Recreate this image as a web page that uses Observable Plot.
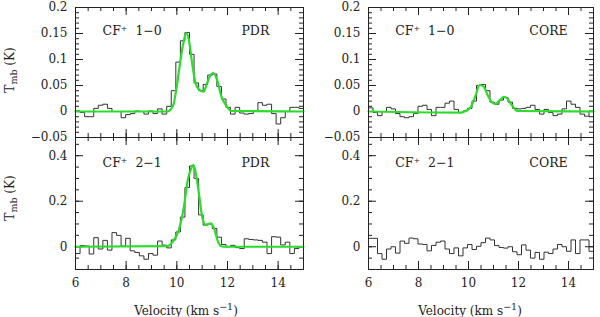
<!DOCTYPE html>
<html><head><meta charset="utf-8">
<script src="https://cdn.jsdelivr.net/npm/d3@7"></script>
<script src="https://cdn.jsdelivr.net/npm/@observablehq/plot@0.6"></script>
<style>
html,body{margin:0;padding:0;background:#fff;}
#chart{position:relative;width:600px;height:317px;overflow:hidden;font-family:"DejaVu Serif",serif;color:#222;}
#chart svg{position:absolute;overflow:visible;}
.ylab{position:absolute;font-size:12px;white-space:nowrap;transform:translate(-50%,-50%) rotate(-90deg);}
.xlab{position:absolute;font-size:12px;white-space:nowrap;transform:translate(-50%,-50%);}
sub,sup{font-size:9.5px;}
</style></head><body><div id="chart"></div>
<script>
// Channel left edges (km/s), last channel ends at velEnd
const vel = [6.00,6.18,6.36,6.54,6.72,6.90,7.08,7.26,7.44,7.62,7.80,7.98,8.16,8.34,8.52,8.70,8.88,9.06,9.24,9.42,9.60,9.78,9.96,10.14,10.32,10.50,10.68,10.86,11.04,11.22,11.40,11.58,11.76,11.94,12.12,12.30,12.48,12.66,12.84,13.02,13.20,13.38,13.56,13.74,13.92,14.10,14.28,14.46,14.64,14.82];
const velEnd = 15.0;

// Observed spectra (Tmb, K)
const tPdr10 = [0.001,-0.002,-0.010,-0.010,0.006,0.012,0.014,0.006,0.000,0.000,-0.012,-0.006,-0.004,0.001,0.000,-0.005,0.001,-0.004,0.005,-0.005,0.010,0.040,0.095,0.136,0.152,0.110,0.055,0.040,0.052,0.070,0.072,0.048,0.024,0.008,-0.005,0.008,-0.003,-0.005,-0.004,0.000,0.017,0.012,0.014,-0.004,-0.024,-0.012,0.000,0.008,0.008,0.006];
const tCore10 = [0.007,-0.002,-0.008,0.000,0.008,0.005,-0.004,-0.010,-0.012,-0.010,-0.004,0.010,0.012,0.004,-0.008,0.008,0.008,0.016,0.020,0.004,-0.002,0.001,0.006,0.020,0.050,0.052,0.040,0.018,0.014,0.022,0.027,0.018,0.006,0.005,0.006,0.008,0.012,0.004,-0.005,0.004,-0.002,-0.008,-0.005,0.005,0.020,0.014,0.008,-0.005,-0.009,0.001];
const tPdr21 = [-0.030,0.005,0.003,-0.032,0.040,-0.010,0.028,-0.015,0.062,0.050,0.003,0.037,-0.018,-0.025,-0.040,-0.055,-0.030,-0.037,0.025,0.007,-0.005,0.030,0.065,0.130,0.260,0.355,0.300,0.140,0.095,0.100,0.080,0.042,0.010,0.000,0.006,-0.004,-0.008,0.035,0.032,0.030,0.028,0.020,-0.030,0.044,0.042,0.008,0.020,-0.030,-0.008,0.000];
const tCore21 = [0.037,0.037,-0.030,-0.055,-0.010,0.000,-0.028,0.025,0.015,0.038,0.035,0.012,0.010,-0.018,0.006,0.020,0.025,-0.010,-0.030,-0.005,-0.040,-0.005,0.010,-0.012,0.002,0.018,0.038,0.030,0.005,-0.003,-0.006,0.000,-0.022,-0.035,0.008,-0.015,-0.050,-0.025,-0.055,-0.024,-0.030,-0.010,0.010,0.000,-0.020,0.030,-0.030,0.030,0.030,-0.020];

// Fitted profiles (green)
const fitPdr10V = [6, 9.62, 9.85, 10.0, 10.13, 10.26, 10.37, 10.47, 10.6, 10.73, 10.86, 11.06, 11.2, 11.42, 11.6, 11.75, 11.95, 12.15, 15];
const fitPdr10T = [0, 0, 0.011, 0.049, 0.094, 0.132, 0.151, 0.139, 0.094, 0.056, 0.043, 0.038, 0.056, 0.074, 0.059, 0.030, 0.011, 0.001, 0];
const fitCore10V = [6, 9.7, 9.88, 10.08, 10.28, 10.44, 10.61, 10.75, 10.95, 11.08, 11.21, 11.41, 11.55, 11.75, 11.95, 15];
const fitCore10T = [0, -0.002, 0.001, 0.008, 0.030, 0.051, 0.048, 0.033, 0.017, 0.015, 0.020, 0.028, 0.025, 0.011, 0.001, 0];
const fitPdr21V = [6, 9.62, 9.89, 10.08, 10.28, 10.41, 10.57, 10.65, 10.74, 10.87, 11.0, 11.14, 11.34, 11.47, 11.6, 11.73, 11.86, 15];
const fitPdr21T = [0, 0.003, 0.03, 0.074, 0.176, 0.28, 0.345, 0.36, 0.33, 0.235, 0.132, 0.096, 0.103, 0.081, 0.03, 0.003, 0, 0];

// Axis ticks & labels
const xMajor = [6, 8, 10, 12, 14];
const yTopMajor = [-0.05, 0, 0.05, 0.1, 0.15, 0.2];
const yBotMajor = [0, 0.2, 0.4];
const lineLabels = ["CF\u207A\u00A0 1\u22120", "CF\u207A\u00A0 2\u22121"];
const regionLabels = ["PDR", "CORE"];

const chart = document.getElementById("chart");
const fmt = d => d === 0 ? "0" : String(d).replace("-", "\u2212");

function histData(arr) {
  return vel.map((v, i) => ({v, t: arr[i]})).concat([{v: velEnd, t: arr[arr.length - 1]}]);
}
function fitData(vs, ts) { return vs.map((v, i) => ({v, t: ts[i]})); }

function panel(o) {
  const fw = o.width - o.ml - o.mr, fh = o.height - o.mt - o.mb;
  const xMinor = d3.range(12, 31).map(k => k / 2);
  const marks = [
    Plot.tickX(xMinor, {x: d => d, insetBottom: fh - 4, stroke: "#222"}),
    Plot.tickX(xMinor, {x: d => d, insetTop: fh - 4, stroke: "#222"}),
    Plot.tickX(xMajor, {x: d => d, insetBottom: fh - 8, stroke: "#222"}),
    Plot.tickX(xMajor, {x: d => d, insetTop: fh - 8, stroke: "#222"}),
    Plot.tickY(o.yMinor, {y: d => d, insetRight: fw - 4, stroke: "#222"}),
    Plot.tickY(o.yMinor, {y: d => d, insetLeft: fw - 4, stroke: "#222"}),
    Plot.tickY(o.yMajor, {y: d => d, insetRight: fw - 8, stroke: "#222"}),
    Plot.tickY(o.yMajor, {y: d => d, insetLeft: fw - 8, stroke: "#222"}),
    Plot.axisY({ticks: o.yMajor, tickSize: 0, tickPadding: 8, tickFormat: fmt, fontSize: 12, label: null}),
    Plot.line(histData(o.hist), {x: "v", y: "t", curve: "step-after", stroke: "#333", strokeWidth: 1}),
  ];
  if (o.fit) marks.push(Plot.line(o.fit, {x: "v", y: "t", curve: "monotone-x", stroke: "#2bdc2b", strokeWidth: 2.2}));
  if (o.showX) marks.push(Plot.axisX({ticks: xMajor, tickSize: 0, tickPadding: 9, fontSize: 12, label: null}));
  else marks.push(Plot.axisX({ticks: [], label: null}));
  marks.push(Plot.text([o.label], {x: 7.07, y: o.labelY, text: d => d, textAnchor: "start", fontSize: 12.5, fill: "#222"}));
  marks.push(Plot.text([o.region], {x: o.regionX, y: o.labelY, text: d => d, textAnchor: "middle", fontSize: 12.5, fill: "#222"}));
  marks.push(Plot.frame({stroke: "#222", strokeWidth: 1}));
  const svg = Plot.plot({
    width: o.width, height: o.height,
    marginLeft: o.ml, marginRight: o.mr, marginTop: o.mt, marginBottom: o.mb,
    style: {fontFamily: "'DejaVu Serif', serif", fontSize: "12px", color: "#222", background: "transparent", overflow: "visible"},
    x: {domain: [6, 15], axis: null},
    y: {domain: o.yDomain, axis: null},
    marks
  });
  svg.style.left = o.left + "px";
  svg.style.top = o.top + "px";
  chart.appendChild(svg);
}

const yTopMinor = d3.ticks(-0.05, 0.2, 25);
const yBotMinor = d3.ticks(-0.1, 0.45, 11);

const topCfg = {top: 0, height: 145, mt: 7, mb: 8, yDomain: [-0.05, 0.2], yMajor: yTopMajor, yMinor: yTopMinor, labelY: 0.154, showX: false};
const botCfg = {top: 130, height: 187, mt: 7, mb: 48, yDomain: [-0.1, 0.48], yMajor: yBotMajor, yMinor: yBotMinor, labelY: 0.37, showX: true};
const leftCfg = {left: 0, width: 310, ml: 75, mr: 7, regionX: 13.1};
const rightCfg = {left: 300, width: 300, ml: 68, mr: 7, regionX: 13.2};

panel({...topCfg, ...leftCfg, hist: tPdr10, fit: fitData(fitPdr10V, fitPdr10T), label: lineLabels[0], region: regionLabels[0]});
panel({...topCfg, ...rightCfg, hist: tCore10, fit: fitData(fitCore10V, fitCore10T), label: lineLabels[0], region: regionLabels[1]});
panel({...botCfg, ...leftCfg, hist: tPdr21, fit: fitData(fitPdr21V, fitPdr21T), label: lineLabels[1], region: regionLabels[0]});
panel({...botCfg, ...rightCfg, hist: tCore21, fit: null, label: lineLabels[1], region: regionLabels[1]});

// Axis titles
function addLabel(cls, html, x, y) {
  const d = document.createElement("div");
  d.className = cls; d.innerHTML = html;
  d.style.left = x + "px"; d.style.top = y + "px";
  chart.appendChild(d);
}
addLabel("ylab", "T<sub>mb</sub> (K)", 11, 70);
addLabel("ylab", "T<sub>mb</sub> (K)", 11, 198);
addLabel("xlab", "Velocity (km s<sup>\u22121</sup>)", 186, 309);
addLabel("xlab", "Velocity (km s<sup>\u22121</sup>)", 470, 309);
</script></body></html>
